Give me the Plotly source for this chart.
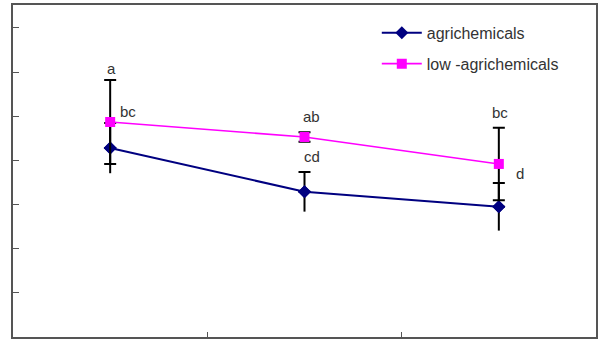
import plotly.graph_objects as go

categories = [0.5, 1.5, 2.5]
agri = [4.28, 3.29, 2.95]
agri_err = [0.57, 0.45, 0.54]
low = [4.87, 4.53, 3.92]
low_err = [0.95, 0.11, 0.82]

# letter labels: (text, category index, series, use error top?, xshift, yshift)
labels = [
    ("a", 0, "low", True, 1, 12),
    ("bc", 0, "low", False, 18, 10),
    ("ab", 1, "low", False, 7, 21),
    ("cd", 1, "agri", True, 7, 15),
    ("bc", 2, "low", True, 1, 15),
    ("d", 2, "agri", True, 21, 9),
]

FONT = "Liberation Sans, Arial"

fig = go.Figure()

# agrichemicals: upper half with cap
fig.add_trace(go.Scatter(
    x=categories, y=agri, mode="lines+markers", name="agrichemicals",
    legendgroup="g1",
    line=dict(color="#000080", width=2),
    marker=dict(symbol="diamond", size=10, color="#000080"),
    error_y=dict(type="data", symmetric=False, array=agri_err, arrayminus=[0]*3,
                 color="black", thickness=2, width=6),
))
# agrichemicals: lower half without cap
fig.add_trace(go.Scatter(
    x=categories, y=agri, mode="markers", showlegend=False, hoverinfo="skip",
    legendgroup="g1",
    marker=dict(symbol="diamond", size=10, color="#000080"),
    error_y=dict(type="data", symmetric=False, array=[0]*3, arrayminus=agri_err,
                 color="black", thickness=2, width=0),
))
fig.add_trace(go.Scatter(
    x=categories, y=low, mode="lines+markers", name="low -agrichemicals",
    legendgroup="g2",
    line=dict(color="#FF00FF", width=1.6),
    marker=dict(symbol="square", size=10, color="#FF00FF"),
    error_y=dict(type="data", array=low_err, color="black", thickness=2, width=6),
))

series = {"agri": (agri, agri_err), "low": (low, low_err)}
for text, i, s, top, xs, ys in labels:
    vals, errs = series[s]
    yv = vals[i] + (errs[i] if top else 0)
    fig.add_annotation(x=categories[i], y=yv, text=text, showarrow=False,
                       xshift=xs, yshift=ys,
                       font=dict(family=FONT, size=15, color="#333333"))

fig.update_layout(
    width=601, height=351,
    margin=dict(l=13, r=3, t=5, b=14),
    paper_bgcolor="white", plot_bgcolor="white",
    showlegend=True,
    legend=dict(x=0.624, y=0.967, xanchor="left", yanchor="top",
                bgcolor="rgba(0,0,0,0)", traceorder="grouped", tracegroupgap=7,
                itemwidth=40,
                font=dict(family=FONT, size=16, color="#333333")),
    xaxis=dict(range=[0, 3], tickvals=[1, 2], ticks="inside", ticklen=5,
               tickcolor="#555555", showticklabels=False, showgrid=False,
               zeroline=False, showline=True, linecolor="#555555", linewidth=2,
               mirror=True),
    yaxis=dict(range=[0, 7.52], tickvals=[1, 2, 3, 4, 5, 6, 7], ticks="inside",
               ticklen=6, tickcolor="#555555", showticklabels=False,
               showgrid=False, zeroline=False, showline=True,
               linecolor="#555555", linewidth=2, mirror=True),
)

fig.write_html("out.html")
